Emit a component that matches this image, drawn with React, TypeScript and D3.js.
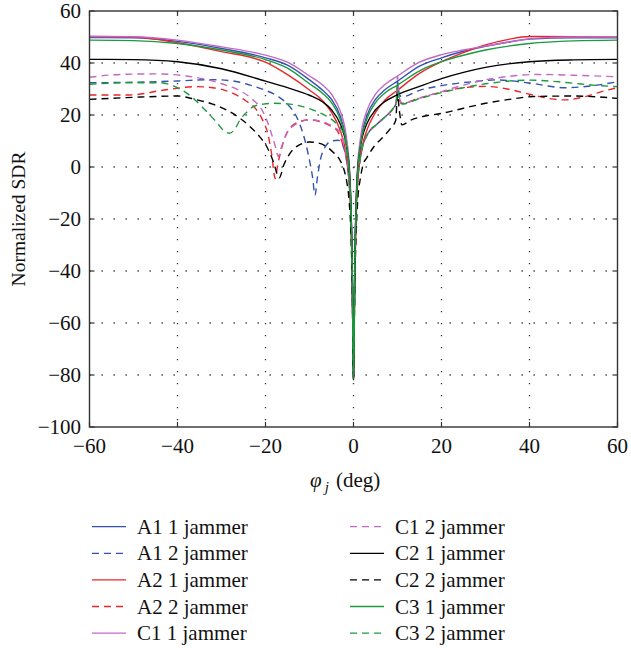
import React from 'react';
import * as d3 from 'd3';

type Pt = [number, number];

const xTicks = [-60, -40, -20, 0, 20, 40, 60];
const yTicks = [60, 40, 20, 0, -20, -40, -60, -80, -100];

const A1_1: Pt[] = [[-60,49.8],[-50,49.7],[-40,48.3],[-30,45.6],[-20,42],[-15,39.2],[-10,33.5],[-7,29.5],[-5,26],[-3,19.5],[-2,13.5],[-1.5,8.5],[-1,0.5],[-0.6,-14],[-0.3,-37],[0,-81],[0.3,-37],[0.6,-14],[1,0.5],[1.5,8.5],[2,13.5],[3,19.5],[5,26],[7,29.5],[10,33],[15,38.8],[20,42],[25,44.5],[30,46.4],[35,48],[40,49.2],[50,49.7],[60,49.7]];
const A1_2: Pt[] = [[-60,32.4],[-50,32.6],[-40,33.1],[-32,33.6],[-27,33],[-23.5,31.5],[-20,29.5],[-17,27],[-15.2,24.5],[-13,19.5],[-11.5,13],[-10.3,5],[-9.3,-4],[-8.75,-10.8],[-8.2,-4],[-7.5,3],[-6.5,7.5],[-5,10],[-3.5,10.3],[-2.5,8.5],[-1.5,1.5],[-1,-6],[-0.6,-18],[-0.3,-40],[0,-81],[0.3,-40],[0.6,-17],[1,-4],[1.5,3],[2,7.5],[3,12],[4,14.5],[5,16],[7,19],[9,22.5],[9.7,24.5],[10,33],[10.4,28],[11,27],[15,29.5],[20,31.3],[27,32.8],[32.5,33.5],[40,32.3],[48,30.5],[54,31.2],[60,32.8]];
const A2_1: Pt[] = [[-60,50.2],[-50,50],[-40,47.8],[-30,44.4],[-20,40.3],[-15,35.5],[-10,29.6],[-7,25.5],[-5,21],[-3,14],[-2,8],[-1.5,3],[-1,-5],[-0.6,-19],[-0.3,-42],[0,-81.5],[0.3,-42],[0.6,-19],[1,-5],[1.5,3],[2,8],[3,14],[5,21],[7,25.5],[10,29.5],[15,36],[20,40.5],[25,44],[30,47],[35,49],[40,50.2],[50,50.1],[60,50]];
const A2_2: Pt[] = [[-60,27.7],[-51,27.7],[-43,29.6],[-36,30.9],[-32,30.5],[-27.4,28.3],[-24.5,25.5],[-22,21.9],[-20.5,17.5],[-19.5,13],[-18.6,5],[-17.8,-4.4],[-17.2,1],[-16,9.2],[-15,13.5],[-13.7,16.2],[-12,17.6],[-10.6,18.1],[-9,18],[-7.6,17.4],[-5.5,16],[-3.8,14.2],[-2.5,9],[-1.5,2],[-1,-6],[-0.6,-19],[-0.3,-42],[0,-81.5],[0.3,-40],[0.6,-17],[1,-4],[1.5,3],[2,7.5],[3,12],[4,14.5],[5,16],[7,19],[9,22.5],[9.7,24.5],[10,29.5],[10.4,26],[11,24.5],[15,26.5],[20,28.8],[25,30.5],[30,31],[35,30],[40,28],[45,26.2],[48,25.8],[52,26.8],[56,28.8],[60,30.5]];
const C1_1: Pt[] = [[-60,50.2],[-50,50.1],[-40,48.8],[-30,46.2],[-20,43],[-15,40.3],[-10,35],[-7,31.5],[-5,28],[-3,21.5],[-2,15.5],[-1.5,10],[-1,2],[-0.6,-12],[-0.3,-35],[0,-81],[0.3,-35],[0.6,-12],[1,2],[1.5,10],[2,15.5],[3,21.5],[5,28],[7,31.5],[10,35],[15,40.3],[20,43.2],[25,45],[30,46.5],[35,48],[40,49.3],[45,49.8],[50,50],[60,50]];
const C1_2: Pt[] = [[-60,34.5],[-53,35.6],[-45,35.8],[-38,35],[-33,33.5],[-29,31.5],[-26,29.5],[-22.8,25.8],[-21,22.5],[-19.7,18],[-18.5,12],[-17.6,7],[-17.1,4],[-16.5,7],[-15.2,13],[-13.5,16],[-12,17.4],[-9.5,18.2],[-7.5,17.6],[-6,16.8],[-4.5,15.3],[-3.1,13.6],[-2,8],[-1.5,3],[-1,-4],[-0.6,-17],[-0.3,-40],[0,-81],[0.3,-40],[0.6,-17],[1,-4],[1.5,3],[2,7.5],[3,12],[4,14.5],[5,16],[7,19],[9,22.5],[9.7,24.5],[10,35],[10.4,27],[11,24.5],[15,26.5],[20,29],[25,31.5],[30,33.5],[35,34.8],[42,35.6],[50,35.3],[60,34.7]];
const C2_1: Pt[] = [[-60,41.4],[-50,41.3],[-40,40.5],[-30,37.8],[-20,33],[-15,30.5],[-10,27.6],[-7,25],[-5,22],[-3,16.5],[-2,11.5],[-1.5,7],[-1,0],[-0.6,-14],[-0.3,-37],[0,-82],[0.3,-37],[0.6,-14],[1,0],[1.5,7],[2,11.5],[3,16.5],[5,22],[7,25],[10,27.8],[15,31],[20,34],[25,36.4],[30,38.3],[40,40.5],[50,41.2],[60,41.4]];
const C2_2: Pt[] = [[-60,26],[-50,26.8],[-40,27.3],[-36,26],[-32,24.2],[-28.8,21.9],[-26,19],[-23.5,15.5],[-21.5,12],[-19.7,7.8],[-18.2,2],[-16.9,-4.2],[-15.8,1],[-14.4,5.3],[-12.5,8.3],[-10,9.6],[-8,9.2],[-6.1,7.8],[-4.5,5.5],[-3.1,2.7],[-2,-2],[-1.5,-6],[-1,-13],[-0.6,-25],[-0.3,-45],[0,-82],[0.3,-45],[0.6,-26],[1,-12],[1.5,-5],[2.2,1],[3,3.5],[4.5,7.5],[6.8,11.7],[8.5,15],[9.6,18],[10,28],[10.4,22],[11,16.2],[13,18],[16,19.5],[20,20.6],[25,22.6],[30,24.5],[35,25.9],[41,27.1],[50,27.3],[60,26.4]];
const C3_1: Pt[] = [[-60,48.8],[-50,48.6],[-40,47.5],[-30,45],[-20,41.3],[-15,38],[-10,32],[-7,28.3],[-5,24.8],[-3,18.3],[-2,12.5],[-1.5,7.5],[-1,-0.5],[-0.6,-15],[-0.3,-38],[0,-81.5],[0.3,-38],[0.6,-15],[1,-0.5],[1.5,7.5],[2,12.5],[3,18.3],[5,24.8],[7,28.3],[10,31.5],[15,37],[20,40.5],[25,43],[30,45],[40,47.5],[50,48.5],[60,48.8]];
const C3_2: Pt[] = [[-60,31.8],[-52,32.4],[-44,32.4],[-40.6,30.9],[-38,28.5],[-36,25.8],[-33.5,21.5],[-31,17],[-29.5,14],[-28.2,13],[-27,14.5],[-25.8,18.1],[-24,21.5],[-22.8,23.2],[-20.5,24.2],[-18.2,24.5],[-14.4,24.2],[-11.5,23.2],[-9.1,21.9],[-7,20.3],[-5.3,18.7],[-3.5,16],[-2.3,13],[-1.5,6],[-1,-3],[-0.6,-16],[-0.3,-40],[0,-81],[0.3,-40],[0.6,-17],[1,-4],[1.5,3],[2,7.5],[3,12],[4,14.5],[5,16],[7,19],[9,22.5],[9.7,24.5],[10,31.5],[10.4,26],[11,24.2],[15,26.3],[20,28.6],[25,30.5],[30,32],[35,33],[40,33.4],[45,33],[50,32.2],[55,31.4],[60,30.9]];

const BLUE = '#3352b3';
const RED = '#e8262b';
const PURPLE = '#c468c6';
const BLACK = '#000000';
const GREEN = '#1c9a3e';

const seriesList = [
  { name: 'A1 1 jammer', color: BLUE, dashed: false, data: A1_1 },
  { name: 'A1 2 jammer', color: BLUE, dashed: true, data: A1_2 },
  { name: 'A2 1 jammer', color: RED, dashed: false, data: A2_1 },
  { name: 'A2 2 jammer', color: RED, dashed: true, data: A2_2 },
  { name: 'C1 1 jammer', color: PURPLE, dashed: false, data: C1_1 },
  { name: 'C1 2 jammer', color: PURPLE, dashed: true, data: C1_2 },
  { name: 'C2 1 jammer', color: BLACK, dashed: false, data: C2_1 },
  { name: 'C2 2 jammer', color: BLACK, dashed: true, data: C2_2 },
  { name: 'C3 1 jammer', color: GREEN, dashed: false, data: C3_1 },
  { name: 'C3 2 jammer', color: GREEN, dashed: true, data: C3_2 },
];

const W = 631, H = 648;
const L = 89.5, R = 617.5, T = 11, B = 427;
const FONT = '"Liberation Serif", "DejaVu Serif", serif';

export default function App() {
  const x = d3.scaleLinear().domain([-60, 60]).range([L, R]);
  const y = d3.scaleLinear().domain([-100, 60]).range([B, T]);
  const line = d3.line<Pt>().x(d => x(d[0])).y(d => y(d[1])).curve(d3.curveMonotoneX);
  const fmt = (v: number) => (v < 0 ? '\u2212' + Math.abs(v) : String(v));
  const tick = 5;
  return (
    <svg width={W} height={H} style={{ position: 'absolute', left: 0, top: 0, background: '#fff' }} fontFamily={FONT}>
      <defs>
        <clipPath id="plotclip"><rect x={L} y={T} width={R - L} height={B - T} /></clipPath>
      </defs>
      <g stroke="#333" strokeWidth={1.3} strokeDasharray="1.3,10.7">
        {xTicks.slice(1, -1).map(v => (
          <line key={'gx' + v} x1={x(v)} x2={x(v)} y1={T} y2={B} />
        ))}
        {yTicks.slice(1, -1).map(v => (
          <line key={'gy' + v} x1={L} x2={R} y1={y(v)} y2={y(v)} />
        ))}
      </g>
      <g clipPath="url(#plotclip)" fill="none">
        {seriesList.map(s => (
          <path key={s.name} d={line(s.data) || ''} stroke={s.color} strokeWidth={1.4}
            strokeDasharray={s.dashed ? '7,5' : undefined} strokeLinejoin="round" />
        ))}
      </g>
      <rect x={L} y={T} width={R - L} height={B - T} fill="none" stroke="#333" strokeWidth={1.4} />
      <g stroke="#333" strokeWidth={1.2}>
        {xTicks.map(v => (
          <g key={'tx' + v}>
            <line x1={x(v)} x2={x(v)} y1={B} y2={B - tick} />
            <line x1={x(v)} x2={x(v)} y1={T} y2={T + tick} />
          </g>
        ))}
        {yTicks.map(v => (
          <g key={'ty' + v}>
            <line x1={L} x2={L + tick} y1={y(v)} y2={y(v)} />
            <line x1={R} x2={R - tick} y1={y(v)} y2={y(v)} />
          </g>
        ))}
      </g>
      <g fontSize={21} fill="#111">
        {xTicks.map(v => (
          <text key={'lx' + v} x={x(v)} y={453} textAnchor="middle">{fmt(v)}</text>
        ))}
        {yTicks.map(v => (
          <text key={'ly' + v} x={81} y={y(v) + 7} textAnchor="end">{fmt(v)}</text>
        ))}
      </g>
      <text x={310} y={487} fontSize={21} fill="#111">
        <tspan fontStyle="italic">φ</tspan>
        <tspan fontStyle="italic" fontSize={15} dx={3} dy={5}>j</tspan>
        <tspan dy={-5} dx={2}> (deg)</tspan>
      </text>
      <text transform={`translate(25,${(T + B) / 2}) rotate(-90)`} textAnchor="middle" fontSize={19.5} fill="#111">Normalized SDR</text>
      <g fontSize={21} fill="#111">
        {seriesList.map((s, i) => {
          const col = i < 5 ? 0 : 1;
          const row = i % 5;
          const lx = col === 0 ? 92 : 350;
          const ly = 526.7 + row * 26.6;
          return (
            <g key={'lg' + s.name}>
              <line x1={lx} x2={lx + 34} y1={ly} y2={ly} stroke={s.color} strokeWidth={1.3}
                strokeDasharray={s.dashed ? '7,5' : undefined} />
              <text x={lx + 45} y={ly + 7}>{s.name}</text>
            </g>
          );
        })}
      </g>
    </svg>
  );
}
